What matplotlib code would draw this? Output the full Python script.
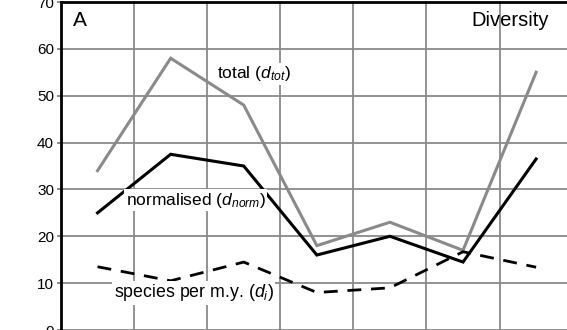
import matplotlib
matplotlib.use("Agg")
import matplotlib.pyplot as plt
import numpy as np

plt.rcParams['font.family'] = ['Liberation Sans', 'DejaVu Sans']
plt.rcParams['mathtext.fontset'] = 'custom'
plt.rcParams['mathtext.rm'] = 'Liberation Sans'
plt.rcParams['mathtext.it'] = 'Liberation Sans:italic'

# diversity values per interval (7 intervals)
total = [34, 58, 48, 18, 23, 17, 55]
normalised = [25, 37.5, 35, 16, 20, 14.5, 36.5]
per_my = [13.5, 10.5, 14.5, 8, 9, 16.7, 13.4]
yticks = [0, 10, 20, 30, 40, 50, 60, 70]

x = np.arange(len(total)) + 0.5

fig = plt.figure(figsize=(5.67, 3.30), dpi=100)
ax = fig.add_axes([61/567, 0.0, 1 - 61/567 + 0.01, 1 - 2/330])

ax.plot(x, total, color='#8a8a8a', lw=2.2, solid_joinstyle='miter')
ax.plot(x, normalised, color='black', lw=2.2, solid_joinstyle='miter')
ax.plot(x, per_my, color='black', lw=2.0, dashes=(5, 3.5))

ax.set_xlim(0, 7)
ax.set_ylim(0, 70)
ax.set_yticks(yticks)
ax.set_xticks(np.arange(1, 7))
ax.set_xticklabels([])
ax.tick_params(axis='x', length=0)
ax.tick_params(axis='y', length=3, width=1.2, color='#777777', labelsize=11, pad=2)
ax.grid(True, color='#8a8a8a', lw=1.3)
ax.set_axisbelow(True)

for s in ['right', 'bottom']:
    ax.spines[s].set_visible(False)
ax.spines['left'].set_linewidth(2)
ax.spines['top'].set_linewidth(2)

ax.text(0.16, 66, 'A', fontsize=15, va='center', ha='left')
ax.text(6.68, 66, 'Diversity', fontsize=14.5, va='center', ha='right')
box = dict(facecolor='white', edgecolor='none', pad=1)
ax.text(2.14, 54.7, r'total ($d_{tot}$)', fontsize=12.5, va='center', ha='left', bbox=box)
ax.text(0.885, 27.7, r'normalised ($d_{norm}$)', fontsize=12.5, va='center', ha='left', bbox=box)
ax.text(0.72, 7.9, r'species per m.y. ($d_i$)', fontsize=12.8, va='center', ha='left', bbox=box)

fig.savefig('out.png', dpi=100)
